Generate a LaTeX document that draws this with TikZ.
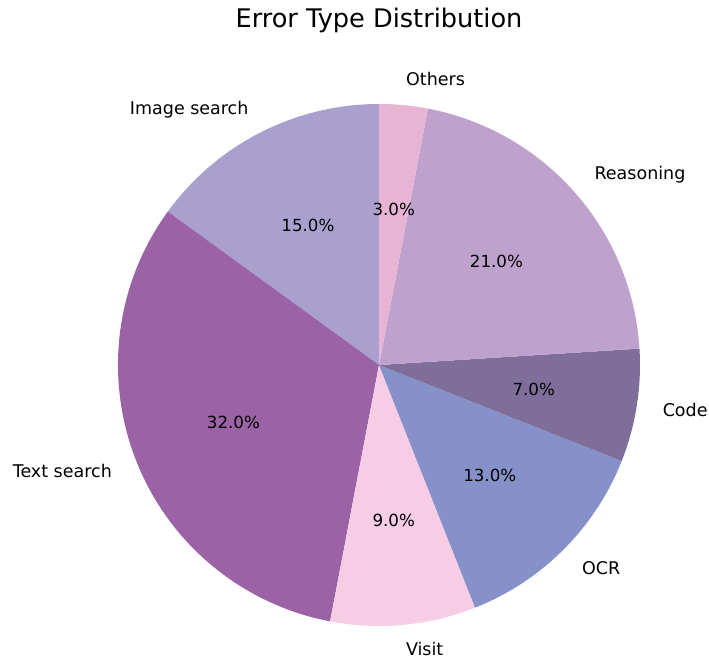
\documentclass[tikz,border=0pt]{standalone}
\usepackage{fontspec}
\setmainfont{DejaVu Sans}
\usetikzlibrary{calc}
\definecolor{cImg}{RGB}{170,160,206}
\definecolor{cTxt}{RGB}{155,99,166}
\definecolor{cVis}{RGB}{247,205,229}
\definecolor{cOcr}{RGB}{133,145,200}
\definecolor{cCode}{RGB}{127,109,154}
\definecolor{cRea}{RGB}{191,161,206}
\definecolor{cOth}{RGB}{232,180,211}
\tikzset{
  lbl/.style={font=\fontsize{17.5}{21}\selectfont, inner sep=0pt, text=black},
  pct/.style={font=\fontsize{16.67}{20}\selectfont, inner sep=0pt, text=black},
  ttl/.style={font=\fontsize{25.6}{30}\selectfont, inner sep=0pt, text=black},
}
\newcommand{\piewedge}[3]{\fill[#3] (C) -- ++(#1:261) arc[start angle=#1, end angle=#2, radius=261] -- cycle;}
\begin{document}
\begin{tikzpicture}[x=1pt,y=1pt]
\useasboundingbox (0,0) rectangle (709,658);
\coordinate (C) at (379,293);
\piewedge{90}{144}{cImg}
\piewedge{144}{259.2}{cTxt}
\piewedge{259.2}{291.6}{cVis}
\piewedge{291.6}{338.4}{cOcr}
\piewedge{338.4}{363.6}{cCode}
\piewedge{363.6}{439.2}{cRea}
\piewedge{439.2}{450}{cOth}
% percentages at 0.6 r
\node[pct] (p1) at ($(C)+(117:156.6)$) {15.0\%};
\node[pct] (p2) at ($(C)+(201.6:156.6)$) {32.0\%};
\node[pct] (p3) at ($(C)+(275.4:156.6)$) {9.0\%};
\node[pct] (p4) at ($(C)+(315:156.6)$) {13.0\%};
\node[pct] (p5) at ($(C)+(351:156.6)$) {7.0\%};
\node[pct] (p6) at ($(C)+(41.4:156.6)$) {21.0\%};
\node[pct] (p7) at ($(C)+(84.6:156.6)$) {3.0\%};
% labels at 1.1 r
\node[lbl, anchor=east] (l1) at ($(C)+(117:287.1)$) {Image search};
\node[lbl, anchor=east] (l2) at ($(C)+(201.6:287.1)$) {Text search};
\node[lbl, anchor=west] (l3) at ($(C)+(275.4:285)$) {Visit};
\node[lbl, anchor=west] (l4) at ($(C)+(315:287.1)$) {OCR};
\node[lbl, anchor=west] (l5) at ($(C)+(351:287.1)$) {Code};
\node[lbl, anchor=west] (l6) at ($(C)+(41.4:287.1)$) {Reasoning};
\node[lbl, anchor=west] (l7) at ($(C)+(84.6:287.1)$) {Others};
\node[ttl] (title) at (379,638) {Error Type Distribution};
\end{tikzpicture}
\end{document}
